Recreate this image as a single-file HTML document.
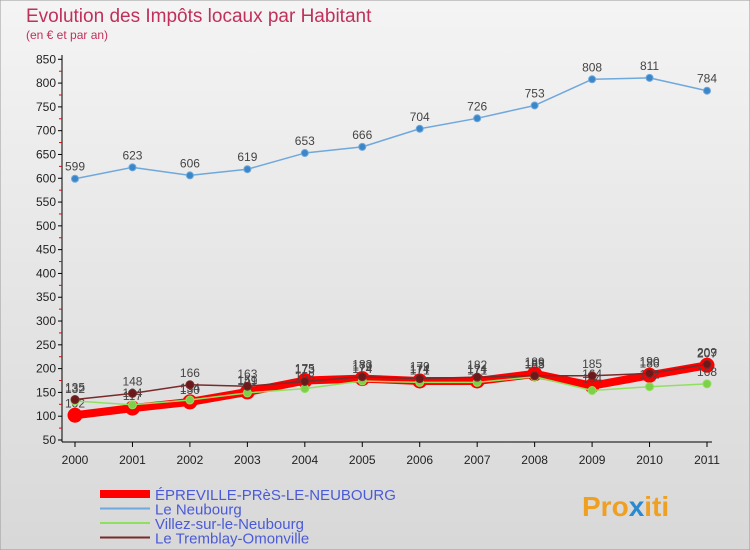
<!DOCTYPE html>
<html><head><meta charset="utf-8"><style>
body{margin:0;background:#fff}
svg{display:block;font-family:"Liberation Sans",sans-serif}
</style></head><body>
<svg width="750" height="550" viewBox="0 0 750 550">
<defs><linearGradient id="bg" x1="0" y1="0" x2="0" y2="1"><stop offset="0" stop-color="#f4f4f4"/><stop offset="1" stop-color="#d8d8d8"/></linearGradient></defs>
<rect x="0" y="0" width="750" height="550" fill="url(#bg)" stroke="#999"/>
<text x="26" y="22" font-size="19" fill="#c0305a">Evolution des Impôts locaux par Habitant</text>
<text x="26" y="39" font-size="12" fill="#c0305a">(en € et par an)</text>
<g id="axes"></g>
<g id="series"></g>
<g id="legend"></g>
<text x="582" y="516" font-size="28" font-weight="bold" fill="#f0a020">Pro<tspan fill="#2a8ad0">x</tspan>iti</text>
</svg>
<script>
const years=["2000","2001","2002","2003","2004","2005","2006","2007","2008","2009","2010","2011"];
const yTicks=[50,100,150,200,250,300,350,400,450,500,550,600,650,700,750,800,850];
const epreville=[102,117,130,151,175,179,174,174,189,164,186,207];
const neubourg=[599,623,606,619,653,666,704,726,753,808,811,784];
const villez=[132,124,134,149,158,174,171,171,183,154,162,168];
const tremblay=[135,148,166,163,173,183,179,182,185,185,190,209];
const NS="http://www.w3.org/2000/svg";
function X(i){return 75+i*(707-75)/11;}
function Y(v){return 440-(v-50)*(440-59.3)/800;}
function mk(t,a,p){const e=document.createElementNS(NS,t);for(const k in a)e.setAttribute(k,a[k]);p.appendChild(e);return e;}
const ax=document.getElementById('axes');
const yl=mk('line',{x1:62,y1:55,x2:62,y2:442,stroke:'#000'},ax);


const xl=mk('line',{x1:62,y1:442,x2:712,y2:442,stroke:'#000'},ax);


yTicks.forEach((v,i)=>{
 mk('line',{x1:58,y1:Y(v),x2:62,y2:Y(v),stroke:'#000'},ax);
 if(i<yTicks.length-1) mk('line',{x1:59,y1:Y(v+25),x2:62,y2:Y(v+25),stroke:'#e00'},ax);
 const t=mk('text',{x:56,y:Y(v)+4,'font-size':12,'text-anchor':'end',fill:'#222'},ax);
 t.textContent=v;
 
 
});
years.forEach((y,i)=>{
 mk('line',{x1:X(i),y1:442,x2:X(i),y2:447,stroke:'#000'},ax);
 const t=mk('text',{x:X(i),y:464,'font-size':12,'text-anchor':'middle',fill:'#222'},ax);
 t.textContent=y;
 
 
});
const sg=document.getElementById('series');
function series(data,color,w,r,name,dot){
 const g=mk('g',{},sg);
 
 
 mk('polyline',{points:data.map((v,i)=>X(i)+','+Y(v)).join(' '),fill:'none',stroke:color,'stroke-width':w,'stroke-linejoin':'round'},g);
 data.forEach((v,i)=>{
  const c=mk('circle',{cx:X(i),cy:Y(v),r:r,fill:dot,stroke:color,'stroke-width':1},g);
  
  
  const t=mk('text',{x:X(i),y:Y(v)-8,'font-size':12,'text-anchor':'middle',fill:'#444'},g);
  t.textContent=v;
  
  
 });
}
series(neubourg,'#6fa8dc',1.5,3.5,'le-neubourg-line','#3a86c8');
series(epreville,'#ff0000',8,7,'epreville-line','#ff0000');
series(villez,'#90e060',1.5,4,'villez-line','#7ed04a');
series(tremblay,'#7a2a2a',1.5,4,'tremblay-line','#6a1a1a');
const lg=document.getElementById('legend');
[["ÉPREVILLE-PRèS-LE-NEUBOURG","#ff0000",8],["Le Neubourg","#6fa8dc",2],["Villez-sur-le-Neubourg","#90e060",2],["Le Tremblay-Omonville","#7a2a2a",2]].forEach((d,i)=>{
 const y=494+i*14.5;
 const g=mk('g',{},lg);
 
 
 mk('line',{x1:100,y1:y,x2:150,y2:y,stroke:d[1],'stroke-width':d[2]},g);
 const t=mk('text',{x:155,y:y+6,'font-size':15,fill:'#4a5ad8'},g);
 t.textContent=d[0];
});
</script>
</body></html>
